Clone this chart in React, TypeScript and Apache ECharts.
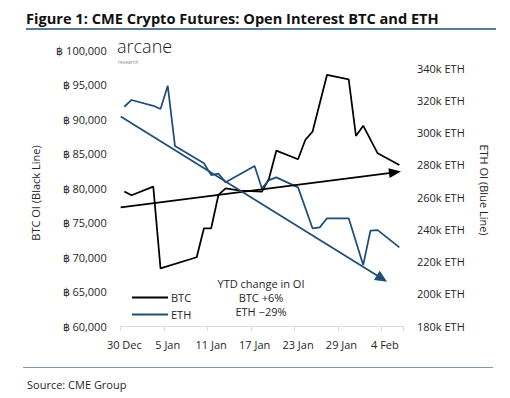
import React, { useEffect, useRef } from "react";
import * as echarts from "echarts";

const dayLabels = [
  "30 Dec", "31 Dec",
  "1 Jan", "2 Jan", "3 Jan", "4 Jan", "5 Jan", "6 Jan", "7 Jan", "8 Jan", "9 Jan", "10 Jan",
  "11 Jan", "12 Jan", "13 Jan", "14 Jan", "15 Jan", "16 Jan", "17 Jan", "18 Jan", "19 Jan", "20 Jan",
  "21 Jan", "22 Jan", "23 Jan", "24 Jan", "25 Jan", "26 Jan", "27 Jan", "28 Jan", "29 Jan", "30 Jan", "31 Jan",
  "1 Feb", "2 Feb", "3 Feb", "4 Feb", "5 Feb", "6 Feb",
];

const btcOI = [
  79500, 78950, null, null, 80190, 68360, null, null, null, null,
  69960, 74160, 74160, 78990, 79960, null, 79610, null, null, 79460,
  81400, 85410, null, null, 84160, 86960, 88160, null, 96380, null,
  null, 95750, 87540, 89030, null, 85030, null, null, 83330,
];

const ethOI = [
  316000, 320200, null, null, 316600, 314600, 329000, 291600, null, null,
  null, 281000, 273600, 274500, 269100, null, null, null, 279200, 265400,
  270500, 272200, null, null, 266000, null, 240600, 241200, 246800, null,
  null, 246800, null, 217800, 239100, 239500, null, null, 228800,
];

// trend arrows: [day position, value]
const btcTrend = [[-0.5, 77190], [37.39, 82264]];
const ethTrend = [[-0.5, 310000], [35.59, 209400]];

const btcTicks = { min: 60000, max: 100000, interval: 5000 };
const ethTicks = { min: 180000, max: 351200, interval: 20000 };

const FONT = '"Open Sans", "Noto Sans", sans-serif';
const BLUE = "#1F4E79";

export default function App() {
  const ref = useRef<HTMLDivElement>(null);
  useEffect(() => {
    document.body.style.margin = "0";
    const chart = echarts.init(ref.current!, undefined, { renderer: "svg" });
    const labelStyle = { color: "#262626", fontSize: 11, fontFamily: FONT };
    chart.setOption({
      animation: false,
      backgroundColor: "#ffffff",
      grid: { left: 120.7, right: 107, top: 50, bottom: 72, containLabel: false },
      xAxis: [
        {
          type: "category",
          data: dayLabels,
          boundaryGap: true,
          axisLine: { lineStyle: { color: "#d9d9d9", width: 1 } },
          axisTick: { show: true, interval: 5, length: 5, lineStyle: { color: "#d9d9d9" } },
          axisLabel: { ...labelStyle, interval: 5, margin: 13 },
          splitLine: { show: false },
        },
        {
          type: "value",
          show: false,
          min: -0.5,
          max: 38.5,
          gridIndex: 0,
          splitLine: { show: false },
        },
      ],
      yAxis: [
        {
          type: "value",
          position: "left",
          min: btcTicks.min,
          max: btcTicks.max,
          interval: btcTicks.interval,
          axisLine: { show: false },
          axisTick: { show: false },
          splitLine: { show: false },
          axisLabel: {
            ...labelStyle,
            margin: 14,
            formatter: (v: number) => "฿ " + v.toLocaleString("en-US"),
          },
        },
        {
          type: "value",
          position: "right",
          min: ethTicks.min,
          max: ethTicks.max,
          interval: ethTicks.interval,
          axisLine: { show: false },
          axisTick: { show: false },
          splitLine: { show: false },
          axisLabel: {
            ...labelStyle,
            margin: 14,
            formatter: (v: number) => (v % 20000 === 0 ? `${v / 1000}k ETH` : ""),
          },
        },
      ],
      legend: {
        data: ["BTC", "ETH"],
        orient: "vertical",
        left: 127,
        top: 287,
        icon: "rect",
        itemWidth: 36,
        itemHeight: 2,
        itemGap: 6,
        textStyle: { ...labelStyle, padding: [0, 0, 0, -2] },
      },
      series: [
        {
          name: "BTC",
          type: "line",
          data: btcOI,
          connectNulls: true,
          showSymbol: false,
          symbol: "none",
          yAxisIndex: 0,
          lineStyle: { color: "#000000", width: 1.75 },
          itemStyle: { color: "#000000" },
        },
        {
          name: "ETH",
          type: "line",
          data: ethOI,
          connectNulls: true,
          showSymbol: false,
          symbol: "none",
          yAxisIndex: 1,
          lineStyle: { color: BLUE, width: 1.75 },
          itemStyle: { color: BLUE },
        },
        {
          name: "btcTrend",
          type: "line",
          xAxisIndex: 1,
          yAxisIndex: 0,
          data: btcTrend,
          symbol: "none",
          lineStyle: { opacity: 0 },
          silent: true,
          markLine: {
            silent: true,
            symbol: ["none", "triangle"],
            symbolSize: [10, 12],
            label: { show: false },
            lineStyle: { color: "#000000", width: 1.75, type: "solid" },
            data: [[{ coord: btcTrend[0] }, { coord: btcTrend[1] }]],
          },
        },
        {
          name: "ethTrend",
          type: "line",
          xAxisIndex: 1,
          yAxisIndex: 1,
          data: ethTrend,
          symbol: "none",
          lineStyle: { opacity: 0 },
          silent: true,
          markLine: {
            silent: true,
            symbol: ["none", "triangle"],
            symbolSize: [11, 12],
            label: { show: false },
            lineStyle: { color: BLUE, width: 1.75, type: "solid" },
            data: [[{ coord: ethTrend[0] }, { coord: ethTrend[1] }]],
          },
        },
      ],
      graphic: [
        {
          type: "text",
          x: 26,
          y: 18,
          style: {
            text: "Figure 1: CME Crypto Futures: Open Interest BTC and ETH",
            font: `bold 14.6px ${FONT}`,
            fill: "#111111",
            verticalAlign: "middle",
          },
        },
        {
          type: "line",
          shape: { x1: 26, y1: 29, x2: 496, y2: 29 },
          style: { stroke: BLUE, lineWidth: 1.5 },
        },
        {
          type: "text",
          x: 117,
          y: 46,
          style: {
            text: "arcane",
            font: `300 18px ${FONT}`,
            fill: "#1a1a1a",
            verticalAlign: "middle",
            lineHeight: 12,
          },
        },
        {
          type: "text",
          x: 118,
          y: 62,
          style: { text: "research", font: `5px ${FONT}`, fill: "#888888", verticalAlign: "middle", lineHeight: 5 },
        },
        {
          type: "text",
          x: 261,
          y: 276,
          style: {
            text: "YTD change in OI\nBTC +6%\nETH −29%",
            font: `11px ${FONT}`,
            fill: "#262626",
            align: "center",
            verticalAlign: "top",
            lineHeight: 14,
          },
        },
        {
          type: "text",
          x: 35,
          y: 193,
          rotation: Math.PI / 2,
          style: {
            text: "BTC OI (Black Line)",
            font: `11px ${FONT}`,
            fill: "#262626",
            align: "center",
            verticalAlign: "middle",
          },
        },
        {
          type: "text",
          x: 484,
          y: 190,
          rotation: -Math.PI / 2,
          style: {
            text: "ETH OI (Blue Line)",
            font: `11px ${FONT}`,
            fill: "#262626",
            align: "center",
            verticalAlign: "middle",
          },
        },
        {
          type: "line",
          shape: { x1: 23, y1: 367.5, x2: 493, y2: 367.5 },
          style: { stroke: "#8497b0", lineWidth: 1 },
        },
        {
          type: "text",
          x: 27,
          y: 384,
          style: { text: "Source: CME Group", font: `11px ${FONT}`, fill: "#262626", verticalAlign: "middle" },
        },
      ],
    });
    return () => chart.dispose();
  }, []);
  return <div ref={ref} style={{ width: 510, height: 398, position: "absolute", left: 0, top: 0 }} />;
}
